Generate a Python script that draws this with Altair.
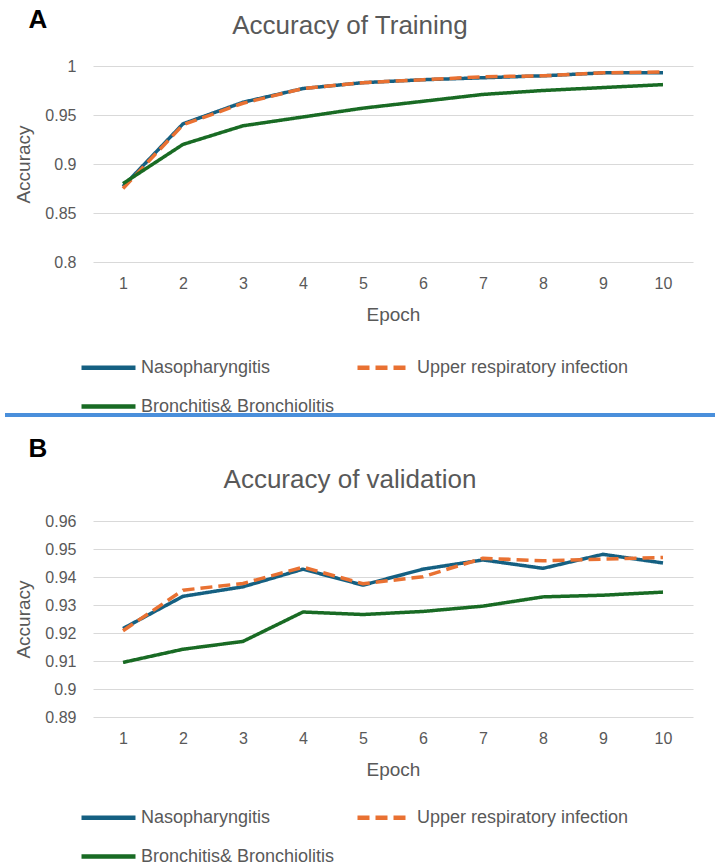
import altair as alt
import pandas as pd

# Epochs on the x axis and the three diagnosis series
epochs = list(range(1, 11))
series_names = ["Nasopharyngitis", "Upper respiratory infection", "Bronchitis& Bronchiolitis"]
series_colors = ["#156082", "#E97132", "#196B24"]
series_dashes = [[1, 0], [12, 6], [1, 0]]

# Training accuracy per epoch
train_naso = [0.877, 0.941, 0.963, 0.977, 0.983, 0.986, 0.988, 0.990, 0.993, 0.993]
train_uri = [0.875, 0.940, 0.962, 0.977, 0.983, 0.986, 0.989, 0.990, 0.993, 0.994]
train_bron = [0.880, 0.920, 0.939, 0.948, 0.957, 0.964, 0.971, 0.975, 0.978, 0.981]

# Validation accuracy per epoch
val_naso = [0.9216, 0.9331, 0.9365, 0.9428, 0.9371, 0.9428, 0.9461, 0.9431, 0.9481, 0.9450]
val_uri = [0.9208, 0.9353, 0.9377, 0.9435, 0.9376, 0.9401, 0.9467, 0.9458, 0.9464, 0.9470]
val_bron = [0.9095, 0.9142, 0.9170, 0.9275, 0.9266, 0.9277, 0.9296, 0.9329, 0.9335, 0.9346]

# Axis tick values
train_ticks = [0.8, 0.85, 0.9, 0.95, 1.0]
val_ticks = [0.89, 0.90, 0.91, 0.92, 0.93, 0.94, 0.95, 0.96]

FONT = "Liberation Sans"
GREY = "#595959"
PAGE_W, PAGE_H = 720, 865
LEFT, TOP = 93, 66
PLOT_W, PLOT_H = 600, 196
GAP = 259


def long_table(series_values):
    rows = []
    for name, vals in zip(series_names, series_values):
        for e, v in zip(epochs, vals):
            rows.append({"Epoch": e, "Accuracy": v, "Series": name})
    return pd.DataFrame(rows)


def panel(df, ticks, letter, title_text, letter_y, title_y, legend_y, first=False):
    legend = alt.Legend(
        title=None, orient="none", legendX=-14, legendY=legend_y, direction="horizontal",
        columns=2, columnPadding=13, rowPadding=0,
        symbolType="stroke", symbolSize=2916, symbolStrokeWidth=4.5,
        labelFont=FONT, labelFontSize=18, labelColor=GREY, labelLimit=400,
        labelOffset=3,
    )
    lines = alt.Chart(df).mark_line(strokeWidth=3.5, strokeCap="butt", strokeJoin="round").encode(
        x=alt.X(
            "Epoch:O",
            scale=alt.Scale(type="point", padding=0.5),
            axis=alt.Axis(title="Epoch", labelAngle=0, grid=False, labelPadding=13, titlePadding=14),
        ),
        y=alt.Y(
            "Accuracy:Q",
            scale=alt.Scale(domain=[ticks[0], ticks[-1]], nice=False, zero=False),
            axis=alt.Axis(title="Accuracy", values=ticks, format="~g", labelPadding=17, titlePadding=11),
        ),
        color=alt.Color("Series:N", scale=alt.Scale(domain=series_names, range=series_colors), legend=legend),
        strokeDash=alt.StrokeDash("Series:N", scale=alt.Scale(domain=series_names, range=series_dashes), legend=legend),
    )
    one = alt.Data(values=[{"k": 0}])
    letter_mark = alt.Chart(one).mark_text(
        text=letter, font=FONT, fontSize=26, fontWeight="bold", color="#000000", align="center", baseline="middle"
    ).encode(x=alt.value(-55), y=alt.value(letter_y))
    title_mark = alt.Chart(one).mark_text(
        text=title_text, font=FONT, fontSize=26, color=GREY, align="center", baseline="middle"
    ).encode(x=alt.value(257), y=alt.value(title_y))
    layers = [lines, letter_mark, title_mark]
    if first:
        # divider between the two panels
        sep = alt.Chart(one).mark_rule(color="#4A8FDB", strokeWidth=4).encode(
            x=alt.value(-88), x2=alt.value(622), y=alt.value(349)
        )
        # invisible page frame so the drawing spans the full page
        frame = alt.Chart(one).mark_rule(opacity=0, strokeWidth=0).encode(
            x=alt.value(-LEFT), x2=alt.value(PAGE_W - LEFT),
            y=alt.value(-TOP), y2=alt.value(PAGE_H - TOP),
        )
        layers += [sep, frame]
    return alt.layer(*layers).properties(width=PLOT_W, height=PLOT_H)


top = panel(long_table([train_naso, train_uri, train_bron]), train_ticks, "A", "Accuracy of Training", -46, -40, 272, first=True)
bottom = panel(long_table([val_naso, val_uri, val_bron]), val_ticks, "B", "Accuracy of validation", -72, -41, 267)

chart = alt.vconcat(top, bottom, spacing=GAP, bounds="flush").resolve_scale(
    x="independent", y="independent", color="independent", strokeDash="independent"
).resolve_legend(color="independent", strokeDash="independent").properties(
    padding=0,
    background="white",
).configure_view(stroke=None).configure_axis(
    domain=False, ticks=False, tickSize=0, gridColor="#D9D9D9", gridWidth=1,
    labelFont=FONT, labelFontSize=16, labelColor=GREY,
    titleFont=FONT, titleFontSize=19, titleFontWeight="normal", titleColor=GREY,
)

chart.save("out.html", embed_options={"renderer": "svg", "actions": False})
